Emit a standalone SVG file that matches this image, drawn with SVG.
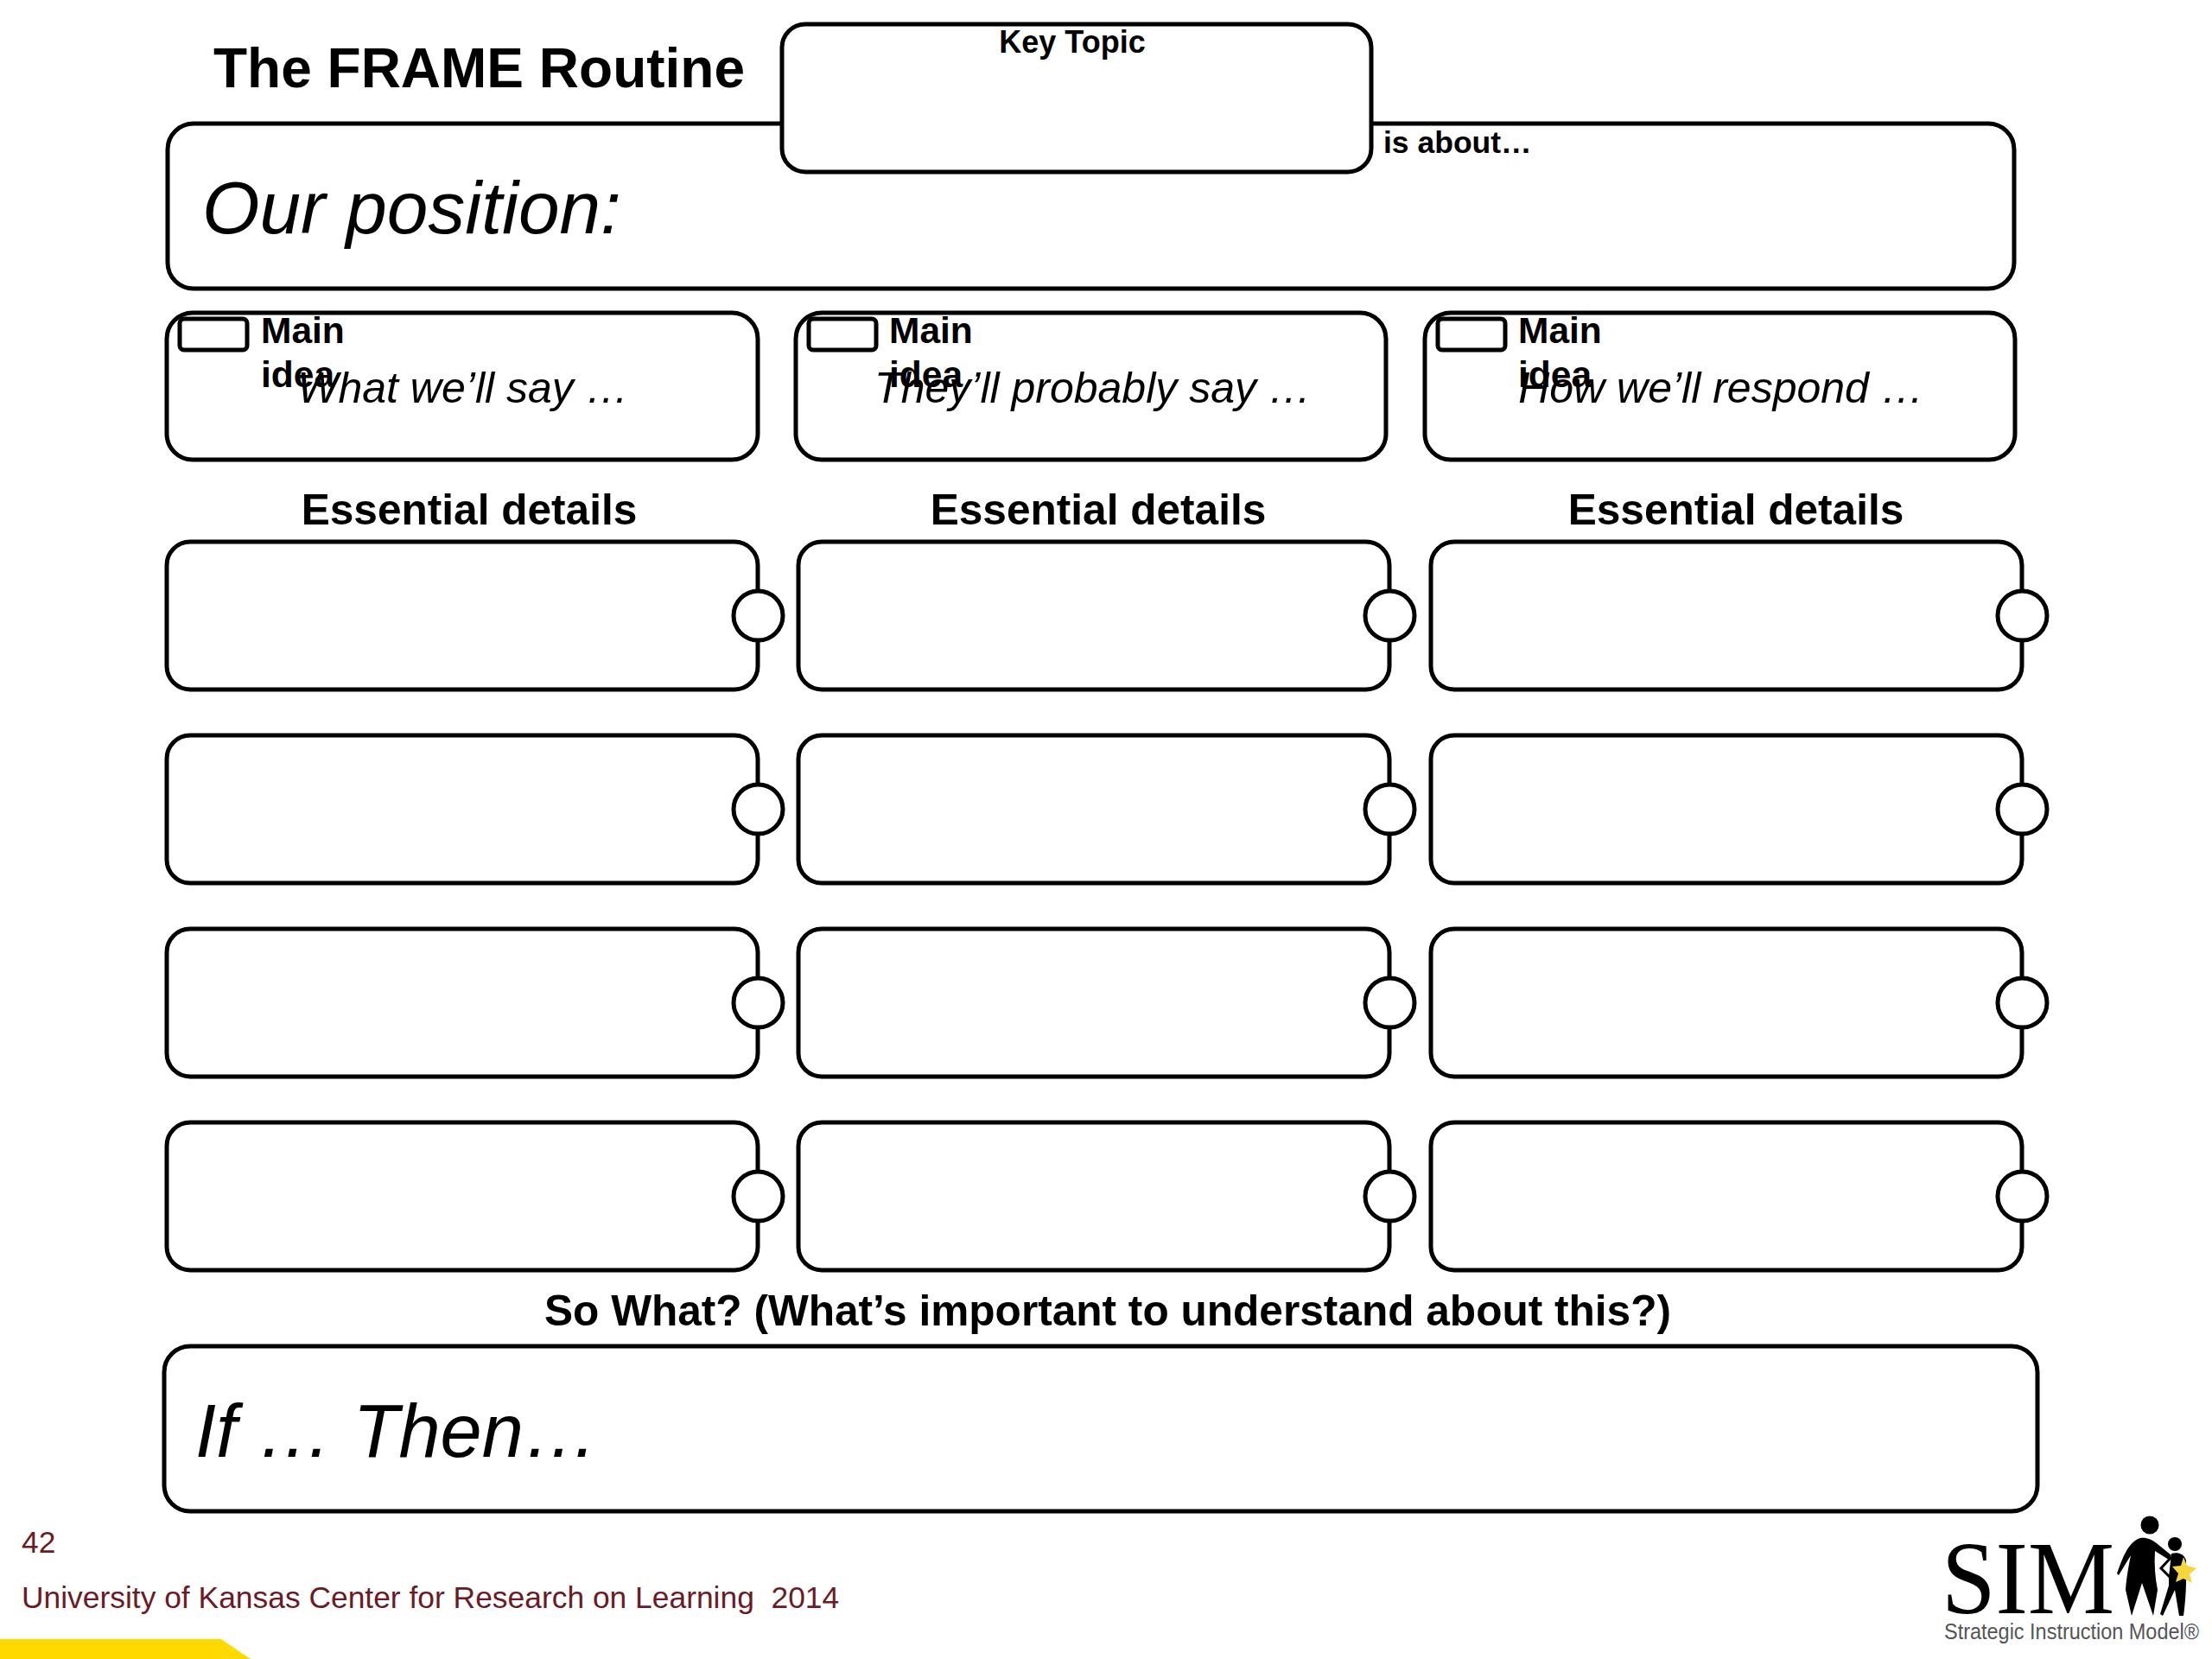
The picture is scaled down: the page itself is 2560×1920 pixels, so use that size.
<svg xmlns="http://www.w3.org/2000/svg" width="2560" height="1920" viewBox="0 0 2560 1920">
<style>
text{font-family:"Liberation Sans",Arial,sans-serif;fill:#000}
.box{fill:#fff;stroke:#000;stroke-width:5}
.b{font-weight:700}
.i{font-style:italic}
.ed{font-weight:700;font-size:49.6px;text-anchor:middle}
.mi{font-weight:700;font-size:42.5px}
.col{font-style:italic;font-size:50px;text-anchor:middle}
.foot{fill:#6b1a26;font-size:35.4px}
</style>
<defs>
<g id="detail"><rect class="box" x="0" y="0" width="684" height="171" rx="27"/><circle class="box" cx="684.500" cy="85.500" r="28.500"/></g>
</defs>
<rect width="2560" height="1920" fill="#fff"/>
<g id="title"><text class="b" x="247" y="101" font-size="64" textLength="615" lengthAdjust="spacingAndGlyphs">The FRAME Routine</text></g>
<g id="position"><rect class="box" x="194" y="143" width="2137" height="191" rx="30"/><text class="i" x="234" y="270" font-size="85.500">Our position:</text><text class="b" x="1601" y="177" font-size="35.500">is about…</text></g>
<g id="key-topic"><rect class="box" x="905" y="28" width="682" height="171" rx="27"/><text class="b" x="1241" y="61" font-size="36" text-anchor="middle">Key Topic</text></g>
<g id="main-1"><rect class="box" x="193" y="362" width="684" height="170" rx="30"/><rect class="box" x="208" y="369" width="78" height="36" rx="5"/><text class="mi" x="302" y="397">Main</text><text class="mi" x="302" y="448">idea</text><text class="col" x="536" y="466">What we’ll say …</text></g>
<g id="main-2"><rect class="box" x="921" y="362" width="683" height="170" rx="30"/><rect class="box" x="936" y="369" width="78" height="36" rx="5"/><text class="mi" x="1029" y="397">Main</text><text class="mi" x="1029" y="448">idea</text><text class="col" x="1265" y="466">They’ll probably say …</text></g>
<g id="main-3"><rect class="box" x="1649" y="362" width="683" height="170" rx="30"/><rect class="box" x="1664" y="369" width="78" height="36" rx="5"/><text class="mi" x="1757" y="397">Main</text><text class="mi" x="1757" y="448">idea</text><text class="col" x="1992" y="466">How we’ll respond …</text></g>
<g id="headers"><text class="ed" x="543" y="607">Essential details</text><text class="ed" x="1271" y="607">Essential details</text><text class="ed" x="2009" y="607">Essential details</text></g>
<g id="d11"><use href="#detail" x="193" y="627"/></g><g id="d12"><use href="#detail" x="924" y="627"/></g><g id="d13"><use href="#detail" x="1656" y="627"/></g>
<g id="d21"><use href="#detail" x="193" y="851"/></g><g id="d22"><use href="#detail" x="924" y="851"/></g><g id="d23"><use href="#detail" x="1656" y="851"/></g>
<g id="d31"><use href="#detail" x="193" y="1075"/></g><g id="d32"><use href="#detail" x="924" y="1075"/></g><g id="d33"><use href="#detail" x="1656" y="1075"/></g>
<g id="d41"><use href="#detail" x="193" y="1299"/></g><g id="d42"><use href="#detail" x="924" y="1299"/></g><g id="d43"><use href="#detail" x="1656" y="1299"/></g>
<g id="so-what"><text class="ed" x="1282" y="1534">So What? (What’s important to understand about this?)</text><rect class="box" x="190" y="1558" width="2168" height="191" rx="30"/><text class="i" x="226" y="1686" font-size="86.500">If … Then…</text></g>
<g id="footer"><text class="foot" x="25" y="1797">42</text><text class="foot" x="25" y="1861" xml:space="preserve">University of Kansas Center for Research on Learning  2014</text><polygon points="0,1897 256,1897 290,1920 0,1920" fill="#ffd900"/></g>
<g id="sim-logo"><text x="2247" y="1867" font-size="120" textLength="200" lengthAdjust="spacingAndGlyphs" style="font-family:'Liberation Serif',serif">SIM</text>
<text x="2250" y="1897" font-size="26" textLength="295" lengthAdjust="spacingAndGlyphs" style="fill:#555">Strategic Instruction Model®</text>
<circle cx="2488" cy="1765" r="10.500" fill="#000"/><circle cx="2517" cy="1787" r="8" fill="#000"/>
<path d="M2477 1780C2483 1779 2490 1781 2497 1787L2513 1800L2510 1805L2494 1795C2493 1810 2494 1825 2497 1840L2492 1870L2479 1832L2467 1870L2460 1840C2461 1825 2464 1810 2466 1800L2452 1823L2450 1821C2456 1805 2462 1785 2477 1780Z" fill="#000"/>
<path d="M2513 1798C2520 1796 2528 1798 2530 1806L2530 1830C2530 1840 2529 1855 2527 1870L2522 1870L2517 1840L2503 1870L2500 1868L2510 1835L2510 1825Z" fill="#000"/>
<path d="M2513 1802L2501 1815L2512 1826" fill="none" stroke="#000" stroke-width="3"/>
<polygon points="2527,1802 2531,1812 2542,1815 2534,1822 2537,1832 2527,1827 2518,1831 2521,1821 2514,1813 2524,1812" fill="#f5d63d"/></g>
</svg>
